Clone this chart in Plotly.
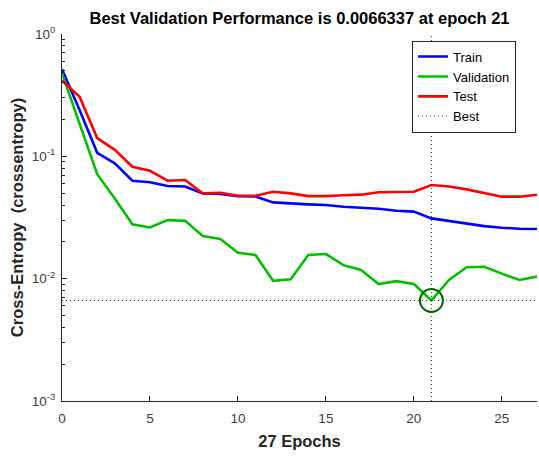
import plotly.graph_objects as go

epochs = list(range(0, 28))
train = [0.514, 0.239, 0.107, 0.0877, 0.0632, 0.0613, 0.0572, 0.0567, 0.0498, 0.0493,
         0.0473, 0.0470, 0.0420, 0.0410, 0.0405, 0.0400, 0.0387, 0.0380, 0.0373, 0.0359,
         0.0353, 0.0311, 0.0296, 0.0283, 0.0269, 0.0261, 0.0256, 0.0255]
validation = [0.477, 0.186, 0.0715, 0.0453, 0.0278, 0.0262, 0.0301, 0.0297, 0.0223, 0.0211,
              0.0163, 0.0156, 0.00961, 0.0099, 0.0156, 0.0159, 0.0129, 0.0118, 0.00904, 0.00955,
              0.00904, 0.0066337, 0.00975, 0.0124, 0.0125, 0.0110, 0.00975, 0.0104]
test = [0.417, 0.307, 0.141, 0.113, 0.0822, 0.0762, 0.0632, 0.0640, 0.0498, 0.0503,
        0.0476, 0.0476, 0.0514, 0.0498, 0.0473, 0.0473, 0.0481, 0.0486, 0.0508, 0.0514,
        0.0514, 0.0583, 0.0566, 0.0537, 0.0498, 0.0468, 0.0468, 0.0486]
best_epoch = 21
best_perf = 0.0066337
n_epochs = 27
y_min, y_max = 1e-3, 1e0
ytick_vals = [1e-3, 1e-2, 1e-1, 1e0]
ytick_text = ["10<sup>-3</sup>", "10<sup>-2</sup>", "10<sup>-1</sup>", "10<sup>0</sup>"]
xtick_vals = [0, 5, 10, 15, 20, 25]

axis_col = "#262626"
font_fam = "Liberation Sans, Arial, sans-serif"

fig = go.Figure()
fig.add_trace(go.Scatter(x=epochs, y=train, name="Train", mode="lines",
                         line=dict(color="#0000ff", width=2.6)))
fig.add_trace(go.Scatter(x=epochs, y=validation, name="Validation", mode="lines",
                         line=dict(color="#00c000", width=2.6)))
fig.add_trace(go.Scatter(x=epochs, y=test, name="Test", mode="lines",
                         line=dict(color="#ff0000", width=2.6)))
fig.add_trace(go.Scatter(x=[0, n_epochs, None, best_epoch, best_epoch],
                         y=[best_perf, best_perf, None, y_min, y_max],
                         name="Best", mode="lines",
                         line=dict(color="#1f4a1f", width=1, dash="1px,3px")))
fig.add_trace(go.Scatter(x=[best_epoch], y=[best_perf], mode="markers", showlegend=False,
                         marker=dict(symbol="circle-open", size=23,
                                     line=dict(color="#006400", width=2), color="#006400")))

minor_vals = [m * 10 ** e for e in (-3, -2, -1) for m in range(2, 10)]

fig.update_layout(
    width=539, height=461,
    margin=dict(l=62, r=2, t=34, b=60),
    plot_bgcolor="white", paper_bgcolor="white",
    font=dict(family=font_fam, color=axis_col, size=13),
    title=dict(text="<b>Best Validation Performance is 0.0066337 at epoch 21</b>",
               x=0.5, xref="paper", xanchor="center", y=0.972, yref="container",
               font=dict(size=16.5, color="#000000")),
    showlegend=True,
    legend=dict(x=0.737, y=0.982, xanchor="left", yanchor="top",
                bordercolor=axis_col, borderwidth=1, bgcolor="white",
                font=dict(size=13, color="#000000"), tracegroupgap=0),
    xaxis=dict(range=[0, n_epochs], tickvals=xtick_vals, ticks="inside", ticklen=5,
               tickcolor=axis_col, showline=True, linecolor=axis_col, linewidth=1,
               showgrid=False, zeroline=False, mirror=False, ticklabelstandoff=5,
               tickfont=dict(size=13.5, color="#404040"),
               title=dict(text="<b>27 Epochs</b>", font=dict(size=16.5, color="#262626"),
                          standoff=10)),
    yaxis=dict(type="log", range=[-3, 0], tickvals=ytick_vals, ticktext=ytick_text,
               ticks="inside", ticklen=5, tickcolor=axis_col, showline=True,
               linecolor=axis_col, linewidth=1, showgrid=False, zeroline=False,
               tickfont=dict(size=13.5, color="#404040"), ticklabelstandoff=3,
               minor=dict(tickvals=minor_vals, ticks="inside", ticklen=3,
                          tickcolor=axis_col, showgrid=False),
               title=dict(text="<b>Cross-Entropy\u00a0\u00a0(crossentropy)</b>",
                          font=dict(size=16.5, color="#262626"), standoff=4)),
)

fig.write_html("out.html")
